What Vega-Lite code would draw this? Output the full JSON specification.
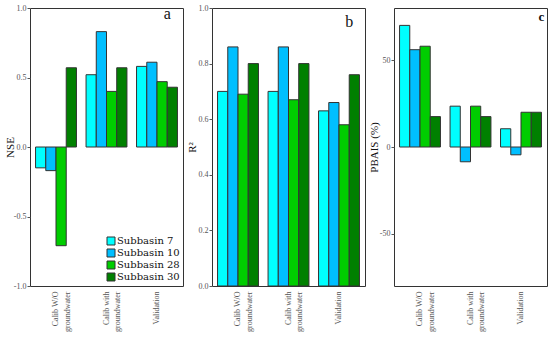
{
  "$schema": "https://vega.github.io/schema/vega-lite/v6.json",
  "padding": {"left": 3, "top": 3, "right": 4, "bottom": 2},
  "background": "white",
  "datasets": {
    "d": [
      {"metric": "NSE", "cat": "Calib W/O groundwater", "series": "Subbasin 7", "value": -0.15},
      {"metric": "NSE", "cat": "Calib W/O groundwater", "series": "Subbasin 10", "value": -0.17},
      {"metric": "NSE", "cat": "Calib W/O groundwater", "series": "Subbasin 28", "value": -0.71},
      {"metric": "NSE", "cat": "Calib W/O groundwater", "series": "Subbasin 30", "value": 0.57},
      {"metric": "NSE", "cat": "Calib with groundwater", "series": "Subbasin 7", "value": 0.52},
      {"metric": "NSE", "cat": "Calib with groundwater", "series": "Subbasin 10", "value": 0.83},
      {"metric": "NSE", "cat": "Calib with groundwater", "series": "Subbasin 28", "value": 0.40},
      {"metric": "NSE", "cat": "Calib with groundwater", "series": "Subbasin 30", "value": 0.57},
      {"metric": "NSE", "cat": "Validation", "series": "Subbasin 7", "value": 0.58},
      {"metric": "NSE", "cat": "Validation", "series": "Subbasin 10", "value": 0.61},
      {"metric": "NSE", "cat": "Validation", "series": "Subbasin 28", "value": 0.47},
      {"metric": "NSE", "cat": "Validation", "series": "Subbasin 30", "value": 0.43},
      {"metric": "R2", "cat": "Calib W/O groundwater", "series": "Subbasin 7", "value": 0.70},
      {"metric": "R2", "cat": "Calib W/O groundwater", "series": "Subbasin 10", "value": 0.86},
      {"metric": "R2", "cat": "Calib W/O groundwater", "series": "Subbasin 28", "value": 0.69},
      {"metric": "R2", "cat": "Calib W/O groundwater", "series": "Subbasin 30", "value": 0.80},
      {"metric": "R2", "cat": "Calib with groundwater", "series": "Subbasin 7", "value": 0.70},
      {"metric": "R2", "cat": "Calib with groundwater", "series": "Subbasin 10", "value": 0.86},
      {"metric": "R2", "cat": "Calib with groundwater", "series": "Subbasin 28", "value": 0.67},
      {"metric": "R2", "cat": "Calib with groundwater", "series": "Subbasin 30", "value": 0.80},
      {"metric": "R2", "cat": "Validation", "series": "Subbasin 7", "value": 0.63},
      {"metric": "R2", "cat": "Validation", "series": "Subbasin 10", "value": 0.66},
      {"metric": "R2", "cat": "Validation", "series": "Subbasin 28", "value": 0.58},
      {"metric": "R2", "cat": "Validation", "series": "Subbasin 30", "value": 0.76},
      {"metric": "PBIAS", "cat": "Calib W/O groundwater", "series": "Subbasin 7", "value": 70},
      {"metric": "PBIAS", "cat": "Calib W/O groundwater", "series": "Subbasin 10", "value": 56},
      {"metric": "PBIAS", "cat": "Calib W/O groundwater", "series": "Subbasin 28", "value": 58},
      {"metric": "PBIAS", "cat": "Calib W/O groundwater", "series": "Subbasin 30", "value": 17.5},
      {"metric": "PBIAS", "cat": "Calib with groundwater", "series": "Subbasin 7", "value": 23.5},
      {"metric": "PBIAS", "cat": "Calib with groundwater", "series": "Subbasin 10", "value": -8.5},
      {"metric": "PBIAS", "cat": "Calib with groundwater", "series": "Subbasin 28", "value": 23.5},
      {"metric": "PBIAS", "cat": "Calib with groundwater", "series": "Subbasin 30", "value": 17.5},
      {"metric": "PBIAS", "cat": "Validation", "series": "Subbasin 7", "value": 10.5},
      {"metric": "PBIAS", "cat": "Validation", "series": "Subbasin 10", "value": -4.5},
      {"metric": "PBIAS", "cat": "Validation", "series": "Subbasin 28", "value": 20},
      {"metric": "PBIAS", "cat": "Validation", "series": "Subbasin 30", "value": 20}
    ],
    "panels": [
      {"metric": "NSE", "letter": "a", "pos": 0.92},
      {"metric": "R2", "letter": "b", "pos": 0.93},
      {"metric": "PBIAS", "letter": "c", "pos": 72.5}
    ]
  },
  "config": {
    "font": "Liberation Serif",
    "view": {"stroke": "#333", "strokeWidth": 1},
    "axis": {
      "labelFont": "Liberation Serif",
      "labelFontSize": 8,
      "labelColor": "#555",
      "titleFont": "Liberation Serif",
      "titleFontSize": 11,
      "titleFontWeight": "normal",
      "titleColor": "#111",
      "domainColor": "#555",
      "tickColor": "#555",
      "grid": false
    },
    "axisY": {"minExtent": 15, "maxExtent": 15, "titlePadding": 0, "tickSize": 3, "labelPadding": 1, "domain": false,
              "labelExpr": "replace(datum.label, '−', '-')"},
    "axisX": {"labelAngle": 270, "ticks": false, "domain": false, "labelPadding": 5, "labelLineHeight": 11.5,
              "labelExpr": "datum.value == 'Validation' ? datum.value : [replace(datum.value, ' groundwater', ''), 'groundwater']"}
  },
  "spacing": 1,
  "resolve": {"legend": {"color": "independent"}},
  "hconcat": [
    {
      "width": 153,
      "height": 278,
      "layer": [
        {
          "data": {"name": "d"},
          "transform": [{"filter": "datum.metric === 'NSE'"}],
          "mark": {"type": "bar", "stroke": "#333", "strokeWidth": 1},
          "encoding": {
            "x": {
              "field": "cat", "type": "nominal",
              "sort": ["Calib W/O groundwater", "Calib with groundwater", "Validation"],
              "scale": {"paddingInner": 0.19, "paddingOuter": 0.11},
              "title": null
            },
            "xOffset": {"field": "series", "sort": ["Subbasin 7", "Subbasin 10", "Subbasin 28", "Subbasin 30"]},
            "y": {
              "field": "value", "type": "quantitative",
              "scale": {"domain": [-1, 1], "nice": false},
              "axis": {"values": [-1, -0.5, 0, 0.5, 1], "format": ".1f", "title": "NSE"}
            },
            "color": {
              "field": "series", "type": "nominal",
              "sort": ["Subbasin 7", "Subbasin 10", "Subbasin 28", "Subbasin 30"],
              "scale": {"domain": ["Subbasin 7", "Subbasin 10", "Subbasin 28", "Subbasin 30"], "range": ["#00FFFF", "#00BFFF", "#00CD00", "#008000"]},
              "legend": {
                "title": null, "orient": "bottom-right", "offset": 3,
                "symbolType": "square", "symbolSize": 64, "symbolStrokeColor": "#333", "symbolStrokeWidth": 1, "symbolOpacity": 1,
                "labelFont": "DejaVu Serif", "labelFontSize": 10, "labelColor": "#111", "labelOffset": 1,
                "rowPadding": 0, "padding": 0
              }
            }
          }
        },
        {
          "data": {"name": "panels"},
          "transform": [{"filter": "datum.metric === 'NSE'"}],
          "mark": {"type": "text", "fontSize": 16, "font": "Liberation Serif", "color": "#111", "baseline": "alphabetic", "align": "center", "dx": -5},
          "encoding": {
            "x": {"datum": "Validation"},
            "xOffset": {"datum": "Subbasin 30"},
            "y": {"field": "pos", "type": "quantitative"},
            "text": {"field": "letter"}
          }
        }
      ]
    },
    {
      "width": 153,
      "height": 278,
      "layer": [
        {
          "data": {"name": "d"},
          "transform": [{"filter": "datum.metric === 'R2'"}],
          "mark": {"type": "bar", "stroke": "#333", "strokeWidth": 1},
          "encoding": {
            "x": {
              "field": "cat", "type": "nominal",
              "sort": ["Calib W/O groundwater", "Calib with groundwater", "Validation"],
              "scale": {"paddingInner": 0.19, "paddingOuter": 0.11},
              "title": null
            },
            "xOffset": {"field": "series", "sort": ["Subbasin 7", "Subbasin 10", "Subbasin 28", "Subbasin 30"]},
            "y": {
              "field": "value", "type": "quantitative",
              "scale": {"domain": [0, 1], "nice": false},
              "axis": {"values": [0, 0.2, 0.4, 0.6, 0.8, 1], "format": ".1f", "title": "R²"}
            },
            "color": {
              "field": "series", "type": "nominal",
              "scale": {"domain": ["Subbasin 7", "Subbasin 10", "Subbasin 28", "Subbasin 30"], "range": ["#00FFFF", "#00BFFF", "#00CD00", "#008000"]},
              "legend": null
            }
          }
        },
        {
          "data": {"name": "panels"},
          "transform": [{"filter": "datum.metric === 'R2'"}],
          "mark": {"type": "text", "fontSize": 16, "font": "Liberation Serif", "color": "#111", "baseline": "alphabetic", "align": "center", "dx": -5},
          "encoding": {
            "x": {"datum": "Validation"},
            "xOffset": {"datum": "Subbasin 30"},
            "y": {"field": "pos", "type": "quantitative"},
            "text": {"field": "letter"}
          }
        }
      ]
    },
    {
      "width": 153,
      "height": 278,
      "layer": [
        {
          "data": {"name": "d"},
          "transform": [{"filter": "datum.metric === 'PBIAS'"}],
          "mark": {"type": "bar", "stroke": "#333", "strokeWidth": 1},
          "encoding": {
            "x": {
              "field": "cat", "type": "nominal",
              "sort": ["Calib W/O groundwater", "Calib with groundwater", "Validation"],
              "scale": {"paddingInner": 0.19, "paddingOuter": 0.11},
              "title": null
            },
            "xOffset": {"field": "series", "sort": ["Subbasin 7", "Subbasin 10", "Subbasin 28", "Subbasin 30"]},
            "y": {
              "field": "value", "type": "quantitative",
              "scale": {"domain": [-80, 80], "nice": false},
              "axis": {"values": [-50, 0, 50], "title": "PBAIS (%)"}
            },
            "color": {
              "field": "series", "type": "nominal",
              "scale": {"domain": ["Subbasin 7", "Subbasin 10", "Subbasin 28", "Subbasin 30"], "range": ["#00FFFF", "#00BFFF", "#00CD00", "#008000"]},
              "legend": null
            }
          }
        },
        {
          "data": {"name": "panels"},
          "transform": [{"filter": "datum.metric === 'PBIAS'"}],
          "mark": {"type": "text", "fontSize": 13, "fontWeight": "bold", "font": "Liberation Serif", "color": "#111", "baseline": "alphabetic", "align": "center", "dx": 5},
          "encoding": {
            "x": {"datum": "Validation"},
            "xOffset": {"datum": "Subbasin 30"},
            "y": {"field": "pos", "type": "quantitative"},
            "text": {"field": "letter"}
          }
        }
      ]
    }
  ]
}
